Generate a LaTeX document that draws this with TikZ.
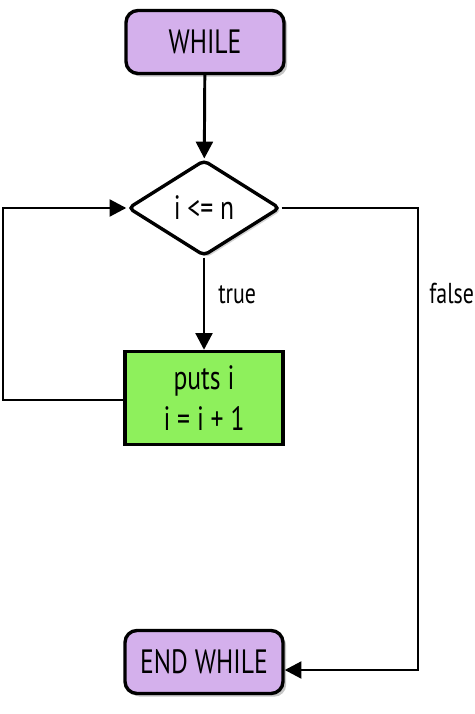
\documentclass[tikz,border=0pt]{standalone}
\usepackage{fontspec}
\setmainfont[FakeStretch=0.76]{PT Sans}
\usetikzlibrary{shapes.geometric,shadows,arrows.meta}

\definecolor{loopviolet}{RGB}{212,176,236}
\definecolor{stepgreen}{RGB}{142,240,92}

\tikzset{
	flowbox/.style={draw,
		line width=2.4pt,
		minimum width=3.95cm,
		font=\fontsize{24}{28}\selectfont},
	endbox/.style={flowbox,
		rounded corners=0.3cm,
		fill=loopviolet,
		minimum height=1.575cm,
		drop shadow={shadow xshift=0.08cm,shadow yshift=-0.08cm,opacity=0.45}},
	flowline/.style={line width=2.1pt,
		-{Triangle[length=0.42cm,width=0.42cm]}},
	flowlabel/.style={inner sep=0pt,
		font=\fontsize{20.5}{24}\selectfont}
}

\begin{document}
\begin{tikzpicture}
	
	\useasboundingbox (0,0) rectangle (11.85,-17.85);
	
	% Start of loop
	\node [endbox] (while) at (5.125,-1.05) {WHILE};
	
	% Condition
	\node [flowbox,
	diamond,
	rounded corners=0.12cm,
	fill=white,
	inner sep=0pt,
	minimum width=3.8cm,
	minimum height=2.4cm,
	drop shadow={shadow xshift=0.06cm,shadow yshift=-0.06cm,opacity=0.35}] (cond) at (5.1,-5.2) {i <= n};
	
	% Loop body
	\node [flowbox,
	fill=stepgreen,
	minimum height=2.325cm,
	align=center,
	font=\fontsize{24}{29}\selectfont] (body) at (5.1,-9.95) {puts i\\i = i + 1};
	
	% End of loop
	\node [endbox] (endwhile) at (5.1,-16.55) {END WHILE};
	
	\coordinate (backleft) at (0.075,-10.0);
	\coordinate (falseright) at (10.45,-16.75);
	
	\draw [flowline] (while) -- (cond);
	\draw [flowline] (cond) -- node [flowlabel,pos=0.4,right=0.32cm] {true} (body);
	\draw [flowline] (body.west |- backleft) -- (backleft) |- (cond.west);
	\draw [flowline] (cond.east) -| node [flowlabel,pos=0.592,right=0.25cm] {false} (falseright) -- (endwhile.east |- falseright);
	
\end{tikzpicture}
\end{document}
